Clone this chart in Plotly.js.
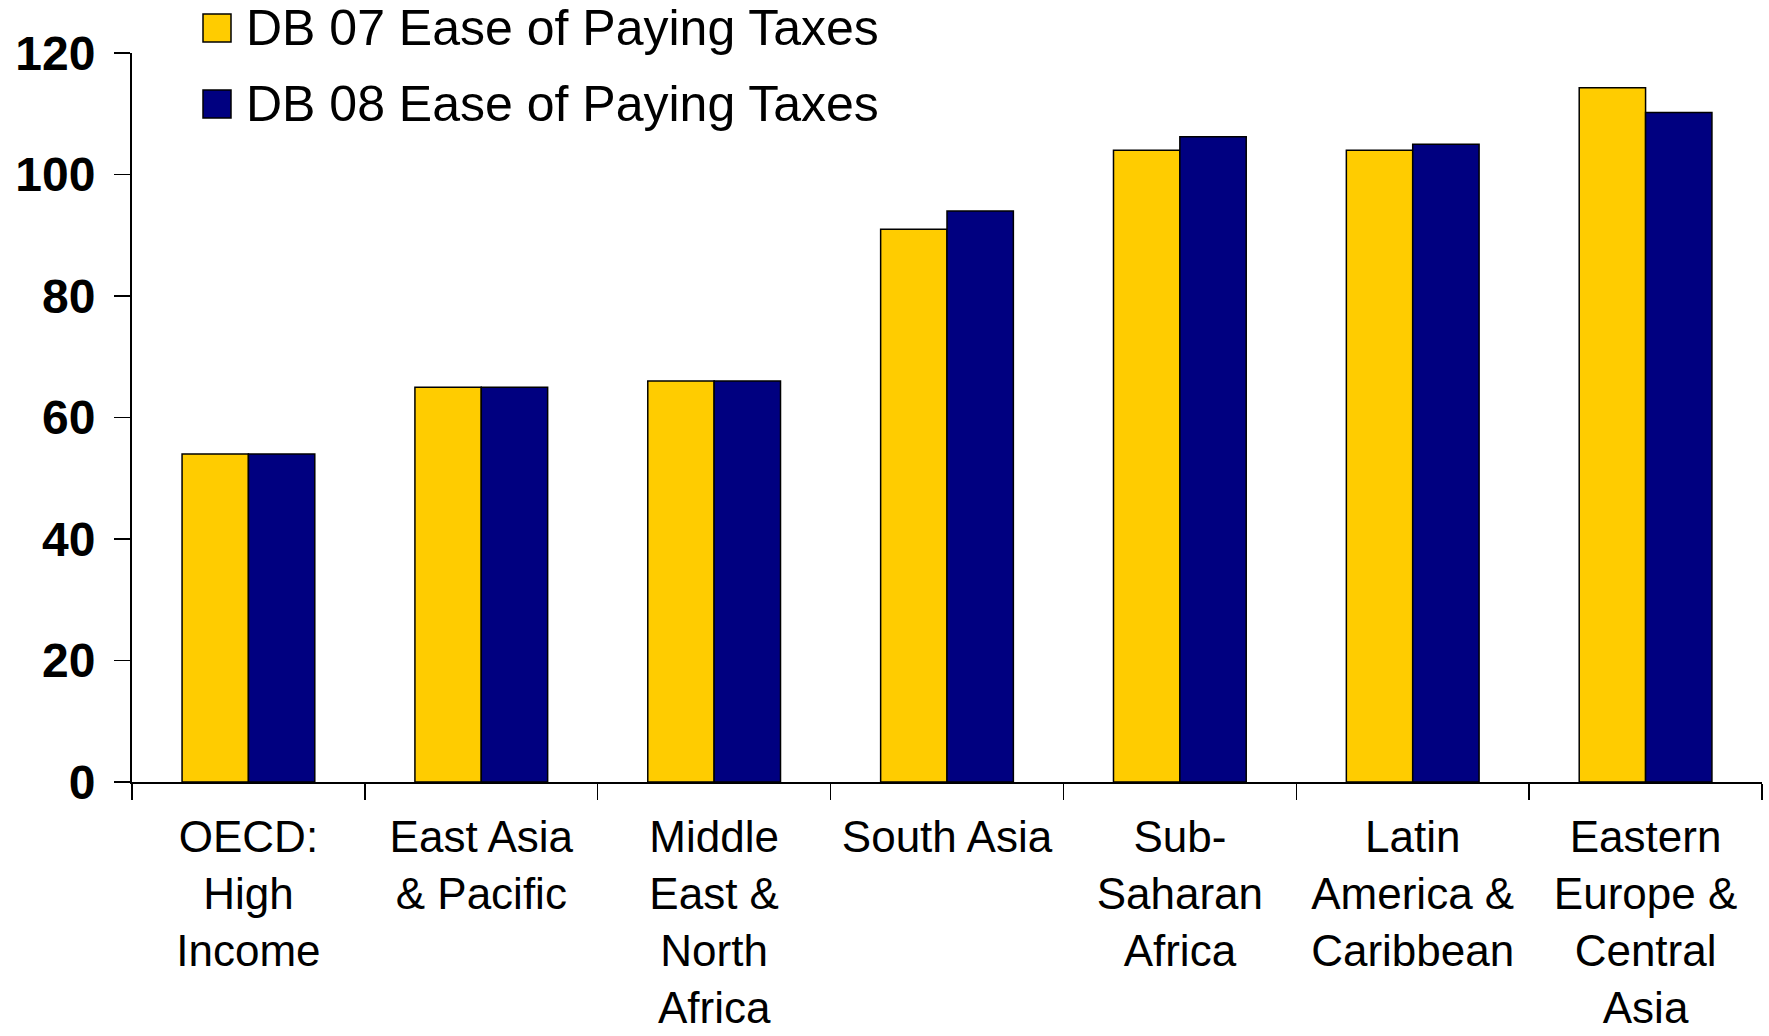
<!DOCTYPE html>
<html>
<head>
<meta charset="utf-8">
<script src="https://cdn.plot.ly/plotly-3.0.1.min.js"></script>
<style>
html,body{margin:0;padding:0;background:#fff;}
#chart{width:1769px;height:1036px;}
</style>
</head>
<body>
<div id="chart"></div>
<script>
const categories = [
  "OECD:<br>High<br>Income",
  "East Asia<br>& Pacific",
  "Middle<br>East &<br>North<br>Africa",
  "South Asia",
  "Sub-<br>Saharan<br>Africa",
  "Latin<br>America &<br>Caribbean",
  "Eastern<br>Europe &<br>Central<br>Asia"
];
const seriesNames = ["DB 07 Ease of Paying Taxes", "DB 08 Ease of Paying Taxes"];
const seriesColors = ["#FFCC00", "#000080"];
const db07 = [54, 65, 66, 91, 104, 104, 114.3];
const db08 = [54, 65, 66, 94, 106.2, 105, 110.2];
const yTicks = [0, 20, 40, 60, 80, 100, 120];

const traces = [
  {type: "bar", name: seriesNames[0], x: categories, y: db07,
   marker: {color: seriesColors[0], line: {color: "#000000", width: 1.5}},
   hoverinfo: "y"},
  {type: "bar", name: seriesNames[1], x: categories, y: db08,
   marker: {color: seriesColors[1], line: {color: "#000000", width: 1.5}},
   hoverinfo: "y"}
];

// Plot area in pixels (for placing the legend boxes)
const L = 132, R = 7, T = 53, B = 254, W = 1769, H = 1036;
const pw = W - L - R, ph = H - T - B;
const px = v => (v - L) / pw;
const py = v => (H - B - v) / ph;

const legendRows = [28, 104];
const shapes = [], annotations = [];
seriesNames.forEach((name, i) => {
  const cy = legendRows[i];
  shapes.push({type: "rect", xref: "paper", yref: "paper",
    x0: px(203), x1: px(231), y0: py(cy - 14), y1: py(cy + 14),
    fillcolor: seriesColors[i], line: {color: "#000", width: 1.5}});
  annotations.push({xref: "paper", yref: "paper", x: px(244), y: py(cy),
    xanchor: "left", yanchor: "middle", showarrow: false, text: name,
    font: {family: "Liberation Sans, Arial, sans-serif", size: 50, color: "#000"}});
});

const layout = {
  width: W, height: H,
  paper_bgcolor: "#ffffff", plot_bgcolor: "#ffffff",
  margin: {l: L, r: R, t: T, b: B, autoexpand: false},
  barmode: "group", bargap: 0.43, bargroupgap: 0,
  showlegend: false,
  shapes: shapes, annotations: annotations,
  xaxis: {
    type: "category",
    showline: true, linecolor: "#000", linewidth: 2,
    ticks: "outside", tickson: "boundaries", ticklen: 16, tickwidth: 1.5, tickcolor: "#000",
    ticklabelstandoff: 15,
    tickfont: {family: "Liberation Sans, Arial, sans-serif", size: 44, color: "#000"},
    showgrid: false, zeroline: false, fixedrange: true
  },
  yaxis: {
    range: [0, 120], tickvals: yTicks, ticktext: yTicks.map(String),
    showline: true, linecolor: "#000", linewidth: 2,
    ticks: "outside", ticklen: 16, tickwidth: 1.5, tickcolor: "#000",
    ticklabelstandoff: 9,
    tickfont: {family: "Liberation Sans, Arial, sans-serif", size: 48, color: "#000", weight: "bold"},
    showgrid: false, zeroline: false, fixedrange: true
  }
};

Plotly.newPlot("chart", traces, layout, {displayModeBar: false, staticPlot: true});
</script>
</body>
</html>
